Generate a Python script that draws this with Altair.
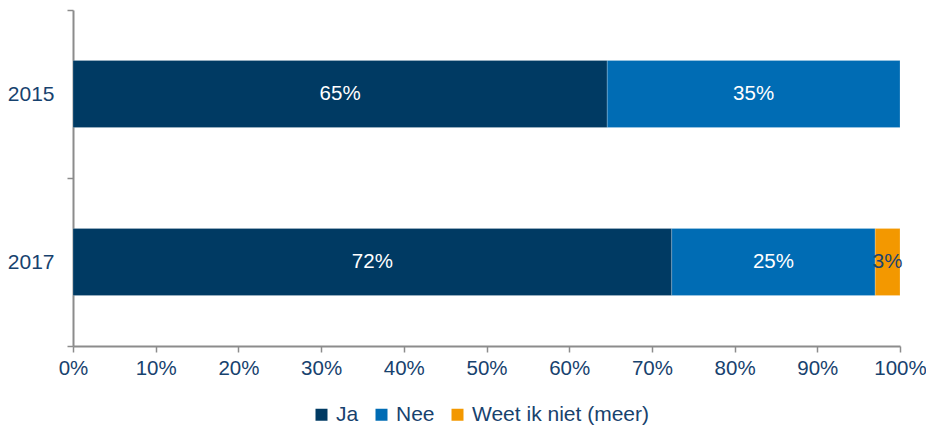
import altair as alt
import pandas as pd

years = ["2015", "2015", "2017", "2017", "2017"]
answers = ["Ja", "Nee", "Ja", "Nee", "Weet ik niet (meer)"]
values = [64.6, 35.4, 72.4, 24.6, 3.0]
orders = [0, 1, 0, 1, 2]
label_colors = ["white", "white", "white", "white", "navy"]

cats = ["Ja", "Nee", "Weet ik niet (meer)"]
colors = ["#003A63", "#006CB4", "#F39800"]
xticks = [0, 10, 20, 30, 40, 50, 60, 70, 80, 90, 100]

df = pd.DataFrame({"year": years, "answer": answers, "value": values,
                   "ord": orders, "lc": label_colors})

TXT = "#17426E"
FONT = "Liberation Sans"
GRAY = "#8C8C8C"

base = alt.Chart(df).transform_stack(
    stack="value", groupby=["year"], as_=["v0", "v1"],
    sort=[alt.SortField("ord", order="ascending")]
).transform_calculate(
    mid="(datum.v0 + datum.v1) / 2",
    lab="format(datum.value, '.0f') + '%'"
)

y_enc = alt.Y("year:N", title=None,
              scale=alt.Scale(paddingInner=0, paddingOuter=0),
              axis=alt.Axis(tickBand="extent", labelFontSize=21, labelColor=TXT,
                            labelFont=FONT, labelPadding=13, domainColor=GRAY,
                            tickColor=GRAY, domainWidth=2, tickWidth=1.5,
                            tickSize=6))

bars = base.mark_bar(height=alt.RelativeBandSize(0.4), stroke="#ffffff",
                     strokeWidth=0.4, strokeOpacity=0.5).encode(
    x=alt.X("v0:Q", title=None,
            scale=alt.Scale(domain=[0, 100], nice=False),
            axis=alt.Axis(values=xticks, labelExpr="datum.value + '%'",
                          labelFontSize=20.5, labelColor=TXT, labelFont=FONT,
                          labelPadding=6, labelFlush=False, grid=False,
                          domainColor=GRAY, tickColor=GRAY, domainWidth=2,
                          tickWidth=1.5, tickSize=6)),
    x2="v1:Q",
    y=y_enc,
    color=alt.Color("answer:N", title=None,
                    scale=alt.Scale(domain=cats, range=colors),
                    legend=alt.Legend(orient="none", direction="horizontal",
                                      legendX=238, legendY=394,
                                      symbolType="square", symbolSize=144,
                                      symbolStrokeWidth=0,
                                      labelFontSize=21, labelColor=TXT,
                                      labelFont=FONT, columnPadding=12,
                                      labelOffset=4, labelLimit=0)),
)

labels = base.mark_text(fontSize=20.5, font=FONT).encode(
    x=alt.X("mid:Q"),
    y=alt.Y("year:N"),
    text="lab:N",
    color=alt.Color("lc:N", scale=alt.Scale(domain=["white", "navy"],
                                            range=["#FFFFFF", "#1B4472"]),
                    legend=None),
)

chart = alt.layer(bars, labels).resolve_scale(color="independent").properties(
    width=827, height=336,
    autosize=alt.AutoSizeParams(type="none"),
    padding={"left": 65, "top": 2, "right": 26, "bottom": 79},
).configure_view(stroke=None)

chart.save("out.html", embed_options={"renderer": "svg", "actions": False})
